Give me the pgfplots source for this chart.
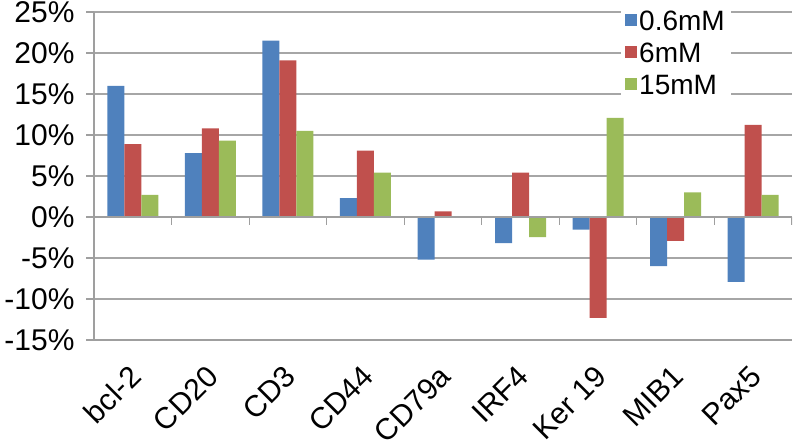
\documentclass[border=0pt]{standalone}
\usepackage{pgfplots}
\pgfplotsset{compat=1.18}
\usepackage{fontspec}
\setmainfont{Liberation Sans}
\definecolor{cblue}{HTML}{4F81BD}
\definecolor{cred}{HTML}{C0504D}
\definecolor{cgreen}{HTML}{9BBB59}
\begin{document}
\begin{tikzpicture}
\begin{axis}[
  at={(94pt,107pt)}, anchor=south west,
  scale only axis, width=698pt, height=328pt,
  ybar=0pt, bar width=17pt,
  xmin=-0.5, xmax=8.5, ymin=-15, ymax=25,
  axis lines*=left,
  axis line style={gray!75, line width=1.2pt},
  xtick={0,...,8},
  xticklabels={bcl-2,CD20,CD3,CD44,CD79a,IRF4,Ker 19,MIB1,Pax5},
  x tick style={draw=none},
  x tick label style={xshift=5pt, yshift=-21pt, rotate=45, anchor=east, font=\fontsize{30}{32}\selectfont},
  ytick={-15,-10,-5,0,5,10,15,20,25},
  yticklabels={-15\%,-10\%,-5\%,0\%,5\%,10\%,15\%,20\%,25\%},
  y tick label style={font=\fontsize{30}{32}\selectfont, xshift=-8pt},
  y tick style={gray!75, line width=1.2pt},
  tick align=outside, major tick length=8pt,
  ymajorgrids, grid style={gray!70, line width=1.2pt},
  legend style={at={(0.755,1.015)}, anchor=north west, draw=none, fill=white,
    font=\fontsize{28}{30}\selectfont, row sep=7pt, inner xsep=4pt, inner ysep=2pt},
  legend cell align=left,
  legend image code/.code={\fill[#1] (0pt,-4pt) rectangle (12pt,8pt);},
]
\addplot[draw=none, fill=cblue] coordinates {
(0,16.0) (1,7.8) (2,21.5) (3,2.3) (4,-5.2) (5,-3.2) (6,-1.55) (7,-6.0) (8,-7.9)};
\addplot[draw=none, fill=cred] coordinates {
(0,8.9) (1,10.8) (2,19.1) (3,8.1) (4,0.7) (5,5.4) (6,-12.3) (7,-2.9) (8,11.25)};
\addplot[draw=none, fill=cgreen] coordinates {
(0,2.7) (1,9.3) (2,10.5) (3,5.4) (4,0) (5,-2.45) (6,12.1) (7,3.0) (8,2.7)};
\legend{0.6mM,6mM,15mM}
\draw[gray!75, line width=1.2pt] (axis cs:-0.5,0) -- (axis cs:8.5,0);
\pgfplotsinvokeforeach{-0.5,0.5,1.5,2.5,3.5,4.5,5.5,6.5,7.5,8.5}{
  \draw[gray!75, line width=1.2pt] (axis cs:#1,0) -- ++(0pt,-8pt);
}
\end{axis}
\pgfresetboundingbox
\path (0pt,0pt) rectangle (794pt,447pt);
\end{tikzpicture}
\end{document}
